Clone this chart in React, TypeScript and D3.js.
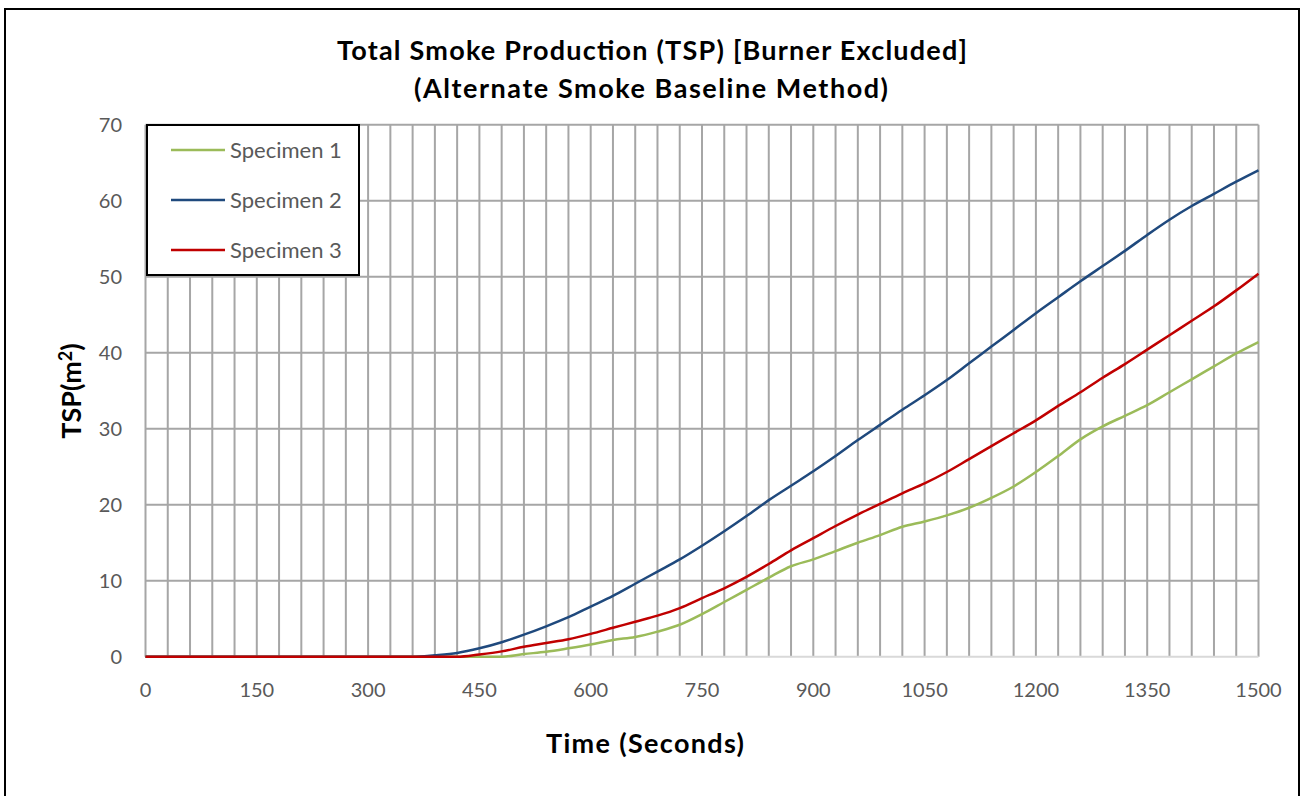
import React, { useEffect, useRef } from 'react'
import * as d3 from 'd3'

// time stamps (s) and total smoke production (m²)
const times = [
  0, 30, 60, 90, 120, 150, 180, 210, 240, 270, 300, 330, 360, 390, 420, 450, 480, 510, 540, 570,
  600, 630, 660, 690, 720, 750, 780, 810, 840, 870, 900, 930, 960, 990, 1020, 1050, 1080, 1110,
  1140, 1170, 1200, 1230, 1260, 1290, 1320, 1350, 1380, 1410, 1440, 1470, 1500,
]
const specimen1 = [
  0, 0, 0, 0, 0, 0, 0, 0, 0, 0, 0, 0, 0, 0, 0, 0, 0, 0.35, 0.65, 1.1,
  1.6, 2.2, 2.6, 3.3, 4.2, 5.6, 7.2, 8.8, 10.4, 11.9, 12.8, 13.9, 15.0, 16.0, 17.1, 17.8, 18.6, 19.6,
  20.9, 22.4, 24.3, 26.4, 28.6, 30.3, 31.7, 33.1, 34.8, 36.5, 38.2, 39.9, 41.4,
]
const specimen2 = [
  0, 0, 0, 0, 0, 0, 0, 0, 0, 0, 0, 0, 0, 0.2, 0.5, 1.1, 1.9, 2.9, 4.0, 5.2,
  6.6, 8.0, 9.6, 11.2, 12.8, 14.6, 16.5, 18.5, 20.6, 22.5, 24.4, 26.4, 28.5, 30.5, 32.5, 34.4, 36.4, 38.6,
  40.8, 43.0, 45.2, 47.3, 49.4, 51.4, 53.4, 55.5, 57.5, 59.3, 60.9, 62.5, 64.0,
]
const specimen3 = [
  0, 0, 0, 0, 0, 0, 0, 0, 0, 0, 0, 0, 0, 0, 0, 0.3, 0.7, 1.3, 1.8, 2.3,
  3.0, 3.8, 4.6, 5.4, 6.4, 7.7, 9.0, 10.5, 12.2, 14.0, 15.6, 17.2, 18.7, 20.1, 21.5, 22.8, 24.3, 26.0,
  27.7, 29.4, 31.1, 33.0, 34.8, 36.7, 38.5, 40.4, 42.3, 44.2, 46.1, 48.2, 50.4,
]
const seriesNames = ['Specimen 1', 'Specimen 2', 'Specimen 3']
const seriesColors = ['#9BBB59', '#1F497D', '#C00000']
const xTickLabels = [0, 150, 300, 450, 600, 750, 900, 1050, 1200, 1350, 1500]
const yTickLabels = [0, 10, 20, 30, 40, 50, 60, 70]

const W = 1306
const H = 796
const FONT = 'Lato, "Open Sans", sans-serif'

export default function App() {
  const ref = useRef<SVGSVGElement>(null)

  useEffect(() => {
    const svg = d3.select(ref.current)
    svg.selectAll('*').remove()

    const left = 145.5, right = 1258.5, top = 124.7, bottom = 656.7

    const x = d3.scaleLinear().domain([0, 1500]).range([left, right])
    const y = d3.scaleLinear().domain([0, 70]).range([bottom, top])

    // outer chart border
    svg.append('rect')
      .attr('x', 5).attr('y', 9).attr('width', 1294).attr('height', 800)
      .attr('fill', 'white').attr('stroke', 'black').attr('stroke-width', 2)

    // vertical gridlines every 30 s
    svg.append('g')
      .selectAll('line')
      .data(d3.range(0, 1501, 30))
      .enter()
      .append('line')
      .attr('x1', d => x(d)).attr('x2', d => x(d))
      .attr('y1', top).attr('y2', bottom)
      .attr('stroke', '#A6A6A6').attr('stroke-width', 2)

    // horizontal gridlines
    svg.append('g')
      .selectAll('line')
      .data(yTickLabels)
      .enter()
      .append('line')
      .attr('x1', left).attr('x2', right)
      .attr('y1', d => y(d)).attr('y2', d => y(d))
      .attr('stroke', d => (d === 0 ? '#D9D9D9' : '#A6A6A6')).attr('stroke-width', 2)

    // tick labels
    svg.append('g')
      .selectAll('text')
      .data(yTickLabels)
      .enter()
      .append('text')
      .attr('x', 122).attr('y', d => y(d))
      .attr('dy', '0.35em')
      .attr('text-anchor', 'end')
      .style('font-family', FONT).style('font-size', '20px').attr('fill', '#595959')
      .text(d => d)

    svg.append('g')
      .selectAll('text')
      .data(xTickLabels)
      .enter()
      .append('text')
      .attr('x', d => x(d)).attr('y', 690)
      .attr('dy', '0.35em')
      .attr('text-anchor', 'middle')
      .style('font-family', FONT).style('font-size', '20px').attr('fill', '#595959')
      .text(d => d)

    // the three curves
    const all = [specimen1, specimen2, specimen3]
    const line = d3.line<number>()
      .x((_, i) => x(times[i]))
      .y(d => y(d))
      .curve(d3.curveMonotoneX)

    all.forEach((s, i) => {
      svg.append('path')
        .datum(s)
        .attr('d', line)
        .attr('fill', 'none')
        .attr('stroke', seriesColors[i])
        .attr('stroke-width', 2.5)
        .attr('stroke-linejoin', 'round')
    })

    // legend
    const lg = svg.append('g')
    lg.append('rect')
      .attr('x', 147).attr('y', 125).attr('width', 212).attr('height', 150)
      .attr('fill', 'white').attr('stroke', 'black').attr('stroke-width', 2)
    seriesNames.forEach((name, i) => {
      const ly = 150 + i * 50
      lg.append('line')
        .attr('x1', 171).attr('x2', 225).attr('y1', ly).attr('y2', ly)
        .attr('stroke', seriesColors[i]).attr('stroke-width', 2.5)
      lg.append('text')
        .attr('x', 230).attr('y', ly).attr('dy', '0.35em')
        .style('font-family', FONT).style('font-size', '22px').attr('fill', '#595959')
        .text(name)
    })

    // titles
    const title = svg.append('text')
      .attr('text-anchor', 'middle')
      .style('font-family', FONT).style('font-size', '27px').style('font-weight', 'bold')
    title.append('tspan').attr('x', 652).attr('y', 60)
      .attr('textLength', 630).attr('lengthAdjust', 'spacing')
      .text('Total Smoke Production (TSP) [Burner Excluded]')
    title.append('tspan').attr('x', 651).attr('y', 98)
      .attr('textLength', 474).attr('lengthAdjust', 'spacing')
      .text('(Alternate Smoke Baseline Method)')

    svg.append('text')
      .attr('x', 645).attr('y', 753).attr('text-anchor', 'middle')
      .attr('textLength', 198).attr('lengthAdjust', 'spacing')
      .style('font-family', FONT).style('font-size', '27px').style('font-weight', 'bold')
      .text('Time (Seconds)')

    const yt = svg.append('text')
      .attr('transform', 'translate(81,391) rotate(-90)')
      .attr('text-anchor', 'middle')
      .style('font-family', FONT).style('font-size', '27px').style('font-weight', 'bold')
    yt.append('tspan').text('TSP(m')
    yt.append('tspan').attr('dy', -9).style('font-size', '18px').text('2')
    yt.append('tspan').attr('dy', 9).text(')')
  }, [])

  return (
    <svg ref={ref} width={W} height={H} style={{ position: 'absolute', left: 0, top: 0, display: 'block' }} />
  )
}
